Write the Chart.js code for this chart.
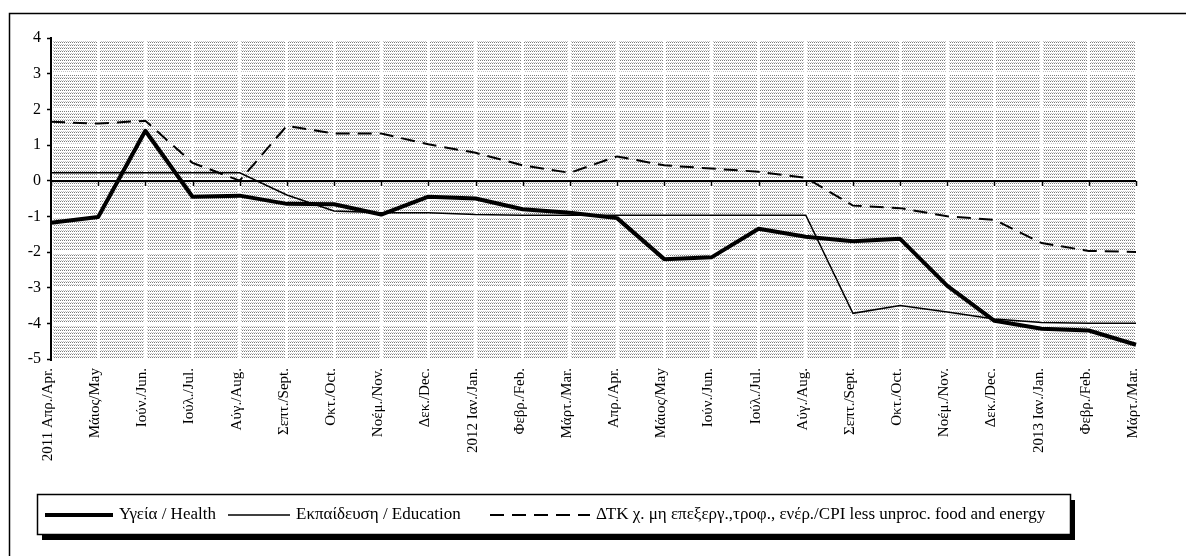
<!DOCTYPE html>
<html>
<head>
<meta charset="utf-8">
<script src="https://cdn.jsdelivr.net/npm/chart.js@4.4.1/dist/chart.umd.min.js"></script>
<style>
html,body{margin:0;padding:0;background:#fff;}
#wrap{position:relative;width:1186px;height:556px;}
</style>
</head>
<body>
<div id="wrap"><canvas id="c" width="1186" height="556"></canvas></div>
<script>
const categories = ["2011 Απρ./Apr.","Μάιος/May","Ιούν./Jun.","Ιούλ./Jul.","Αύγ./Aug.","Σεπτ./Sept.","Οκτ./Oct.","Νοέμ./Nov.","Δεκ./Dec.","2012 Ιαν./Jan.","Φεβρ./Feb.","Μάρτ./Mar.","Απρ./Apr.","Μάιος/May","Ιούν./Jun.","Ιούλ./Jul.","Αύγ./Aug.","Σεπτ./Sept.","Οκτ./Oct.","Νοέμ./Nov.","Δεκ./Dec.","2013 Ιαν./Jan.","Φεβρ./Feb.","Μάρτ./Mar."];
const health = [-1.18,-1.02,1.4,-0.45,-0.42,-0.65,-0.66,-0.95,-0.45,-0.5,-0.8,-0.9,-1.05,-2.2,-2.15,-1.35,-1.57,-1.7,-1.63,-2.95,-3.93,-4.15,-4.2,-4.6];
const education = [0.22,0.22,0.22,0.22,0.22,-0.4,-0.85,-0.9,-0.9,-0.95,-0.97,-0.97,-0.97,-0.97,-0.97,-0.97,-0.97,-3.72,-3.5,-3.68,-3.88,-3.98,-4.0,-4.0];
const cpi = [1.65,1.6,1.68,0.5,0.0,1.54,1.32,1.32,1.02,0.78,0.43,0.22,0.68,0.43,0.34,0.25,0.08,-0.7,-0.77,-1.0,-1.1,-1.75,-1.97,-2.0];
const seriesNames = ["Υγεία / Health","Εκπαίδευση / Education","ΔΤΚ χ. μη επεξεργ.,τροφ., ενέρ./CPI less unproc. food and energy"];
const yTicks = [-5,-4,-3,-2,-1,0,1,2,3,4];

const FONT = "'Liberation Serif','Times New Roman',serif";

function makePattern(ctx){
  const t = document.createElement('canvas');
  t.width = 4; t.height = 3;
  const c = t.getContext('2d');
  c.fillStyle = '#ffffff'; c.fillRect(0,0,4,3);
  c.fillStyle = '#7c7c7c'; c.fillRect(0,0,1,1); c.fillRect(2,0,1,1);
  c.fillStyle = '#c4c4c4'; c.fillRect(1,2,1,1); c.fillRect(3,2,1,1);
  return ctx.createPattern(t,'repeat');
}

const decor = {
  id:'decor',
  beforeDraw(chart){
    const ctx = chart.ctx, a = chart.chartArea;
    ctx.save();
    ctx.fillStyle = '#fff';
    ctx.fillRect(0,0,chart.width,chart.height);
    ctx.strokeStyle = '#000'; ctx.lineWidth = 1.5;
    ctx.strokeRect(9.5,13.5,1300,700);
    ctx.fillStyle = makePattern(ctx);
    ctx.fillRect(a.left, a.top, a.right-a.left, a.bottom-a.top);
    ctx.restore();
  },
  beforeDatasetsDraw(chart){
    const ctx = chart.ctx, x = chart.scales.x, y = chart.scales.y;
    const y0 = Math.round(y.getPixelForValue(0));
    ctx.save();
    ctx.strokeStyle = '#000';
    ctx.lineWidth = 2;
    ctx.beginPath();
    ctx.moveTo(x.left, y0); ctx.lineTo(x.right, y0);
    ctx.stroke();
    ctx.lineWidth = 1.5;
    ctx.beginPath();
    for (let i=0;i<categories.length;i++){
      const px = Math.round(x.getPixelForValue(i))+0.5;
      ctx.moveTo(px, y0); ctx.lineTo(px, y0+5);
    }
    ctx.stroke();
    ctx.restore();
  },
  afterDraw(chart){
    const ctx = chart.ctx;
    const L=37, T=494, W=1033, H=40;
    ctx.save();
    ctx.fillStyle='#000';
    ctx.fillRect(L+5, T+6, W, H);
    ctx.fillStyle='#fff';
    ctx.fillRect(L, T, W, H);
    ctx.strokeStyle='#000'; ctx.lineWidth=1.5;
    ctx.strokeRect(L+0.5, T+0.5, W, H);
    ctx.font = '17px '+FONT;
    ctx.textBaseline='middle';
    const starts = [45, 228, 490];
    const sampleW = [68, 62, 100];
    const ds = chart.data.datasets;
    const cy = T + H/2 + 1;
    ds.forEach((d,i)=>{
      let x = starts[i];
      ctx.strokeStyle = d.borderColor;
      ctx.lineWidth = d.borderWidth;
      ctx.setLineDash(d.borderDash || []);
      ctx.beginPath(); ctx.moveTo(x, cy); ctx.lineTo(x+sampleW[i], cy); ctx.stroke();
      ctx.setLineDash([]);
      x += sampleW[i] + 6;
      ctx.fillStyle='#000';
      ctx.fillText(d.label, x, cy);
    });
    ctx.restore();
  }
};

new Chart(document.getElementById('c'), {
  type:'line',
  data:{
    labels: categories,
    datasets:[
      {label: seriesNames[0], data: health, borderColor:'#000', borderWidth:4, pointRadius:0, tension:0, borderJoinStyle:'round'},
      {label: seriesNames[1], data: education, borderColor:'#000', borderWidth:1.5, pointRadius:0, tension:0},
      {label: seriesNames[2], data: cpi, borderColor:'#000', borderWidth:2, borderDash:[14,8], pointRadius:0, tension:0}
    ]
  },
  options:{
    responsive:false,
    animation:false,
    devicePixelRatio:1,
    layout:{padding:{left:0, right:50, top:38, bottom:62}},
    plugins:{legend:{display:false}, tooltip:{enabled:false}},
    scales:{
      x:{
        type:'category',
        offset:false,
        grid:{color:'#ffffff', lineWidth:3, drawTicks:false},
        border:{display:false},
        ticks:{autoSkip:false, maxRotation:90, minRotation:90, padding:9, labelOffset:-3, color:'#000', font:{family:FONT, size:15}},
        afterFit(s){ s.height = 135; }
      },
      y:{
        min:-5, max:4,
        afterBuildTicks(s){ s.ticks = yTicks.map(v=>({value:v})); },
        grid:{color:'#ffffff', lineWidth:3, drawTicks:true, tickLength:4, tickColor:'#000', tickWidth:1.5},
        border:{display:true, color:'#000', width:2},
        ticks:{padding:6, color:'#000', font:{family:FONT, size:16}},
        afterFit(s){ s.width = 51; }
      }
    }
  },
  plugins:[decor]
});
</script>
</body>
</html>
